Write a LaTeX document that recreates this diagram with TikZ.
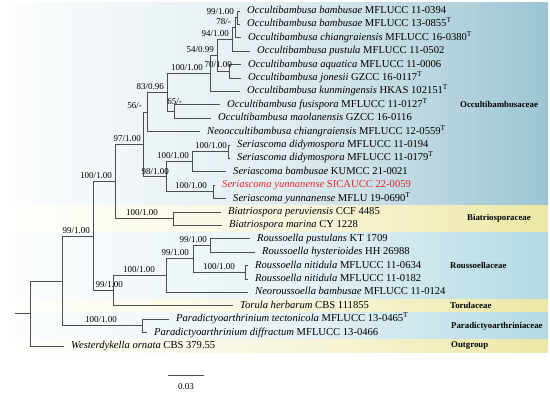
\documentclass[tikz,border=0pt]{standalone}
\usepackage{fontspec}
\setmainfont{Liberation Serif}
\definecolor{branchc}{RGB}{78,78,78}
\definecolor{blueA}{RGB}{156,196,210}
\definecolor{blueB}{RGB}{180,218,228}
\definecolor{yelA}{RGB}{236,232,166}
\definecolor{redlab}{RGB}{228,38,44}
\newcommand{\tsup}{\textsuperscript{T}}
\tikzset{
  br/.style={draw=branchc, line width=0.9pt},
  tipbr/.style={br, shorten >=7pt},
  leaf/.style={anchor=west, inner sep=0pt, font=\fontsize{10.6}{12}\selectfont, text height=7pt, text depth=2pt},
  bs/.style={anchor=base east, inner sep=0pt, font=\fontsize{9}{10}\selectfont},
  fam/.style={anchor=west, inner sep=0pt, font=\bfseries\fontsize{8.8}{10}\selectfont},
  blueband/.style={left color=white!96!blueA, right color=#1, middle color=#1!30!white},
  yelband/.style={left color=white!97!yelA, right color=yelA, middle color=yelA!36!white},
}
\begin{document}
\begin{tikzpicture}[x=1pt,y=-1pt]
\useasboundingbox (0,0) rectangle (550,393);
% bands
\shade[blueband=blueA] (15,3) rectangle (548,205.3);
\shade[yelband] (15,205.3) rectangle (548,232.1);
\shade[blueband=blueB] (15,232.1) rectangle (548,299.1);
\shade[yelband] (15,299.1) rectangle (548,312.5);
\shade[blueband=blueB] (15,312.5) rectangle (548,339.3);
\shade[yelband] (15,339.3) rectangle (548,353);

% internal nodes
\coordinate (stub) at (15,313.5);
\coordinate (root) at (30,313.5);
\coordinate (B) at (62,281);
\coordinate (C) at (93,236.1);
\coordinate (P) at (142,325.9);
\coordinate (D) at (115,181.55);
\coordinate (R5) at (113,290.7);
\coordinate (R4) at (166,275.65);
\coordinate (R3) at (193,258.9);
\coordinate (R1) at (210,245.5);
\coordinate (R2) at (245,272.3);
\coordinate (E) at (143,144.4);
\coordinate (Bi) at (173,218.7);
\coordinate (N56) at (147,112.02);
\coordinate (N98) at (166,176.83);
\coordinate (N83) at (167,92.45);
\coordinate (N65) at (174,111.5);
\coordinate (N100a) at (210,73.39);
\coordinate (N54) at (217,55.39);
\coordinate (N94) at (232,39.475);
\coordinate (N78) at (235,27.75);
\coordinate (N99) at (237,17.7);
\coordinate (N70) at (229,71.3);
\coordinate (N100b) at (192,161.75);
\coordinate (N100c) at (228,151.7);
\coordinate (N100d) at (213,191.9);

% leaves
\node[leaf] (l1) at (247,11.0) {\textit{Occultibambusa bambusae} MFLUCC 11-0394};
\node[leaf] (l2) at (247,24.4) {\textit{Occultibambusa bambusae} MFLUCC 13-0855\tsup};
\node[leaf] (l3) at (248,37.8) {\textit{Occultibambusa chiangraiensis} MFLUCC 16-0380\tsup};
\node[leaf] (l4) at (257,51.2) {\textit{Occultibambusa pustula} MFLUCC 11-0502};
\node[leaf] (l5) at (248,64.6) {\textit{Occultibambusa aquatica} MFLUCC 11-0006};
\node[leaf] (l6) at (248,78.0) {\textit{Occultibambusa jonesii} GZCC 16-0117\tsup};
\node[leaf] (l7) at (247,91.4) {\textit{Occultibambusa kunmingensis} HKAS 102151\tsup};
\node[leaf] (l8) at (227,104.8) {\textit{Occultibambusa fusispora} MFLUCC 11-0127\tsup};
\node[leaf] (l9) at (218,118.2) {\textit{Occultibambusa maolanensis} GZCC 16-0116};
\node[leaf] (l10) at (207,131.6) {\textit{Neooccultibambusa chiangraiensis} MFLUCC 12-0559\tsup};
\node[leaf] (l11) at (237,145.0) {\textit{Seriascoma didymospora} MFLUCC 11-0194};
\node[leaf] (l12) at (237,158.4) {\textit{Seriascoma didymospora} MFLUCC 11-0179\tsup};
\node[leaf] (l13) at (233,171.8) {\textit{Seriascoma bambusae} KUMCC 21-0021};
\node[leaf, text=redlab] (l14) at (222,185.2) {\textit{Seriascoma yunnanense} SICAUCC 22-0059};
\node[leaf] (l15) at (233,198.6) {\textit{Seriascoma yunnanense} MFLU 19-0690\tsup};
\node[leaf] (l16) at (228,212.0) {\textit{Biatriospora peruviensis} CCF 4485};
\node[leaf] (l17) at (229,225.4) {\textit{Biatriospora marina} CY 1228};
\node[leaf] (l18) at (257,238.8) {\textit{Roussoella pustulans} KT 1709};
\node[leaf] (l19) at (262,252.2) {\textit{Roussoella hysterioides} HH 26988};
\node[leaf] (l20) at (255,265.6) {\textit{Roussoella nitidula} MFLUCC 11-0634};
\node[leaf] (l21) at (255,279.0) {\textit{Roussoella nitidula} MFLUCC 11-0182};
\node[leaf] (l22) at (255,292.4) {\textit{Neoroussoella bambusae} MFLUCC 11-0124};
\node[leaf] (l23) at (240,305.8) {\textit{Torula herbarum} CBS 111855};
\node[leaf] (l24) at (176,319.2) {\textit{Paradictyoarthrinium tectonicola} MFLUCC 13-0465\tsup};
\node[leaf] (l25) at (154,332.6) {\textit{Paradictyoarthrinium diffractum} MFLUCC 13-0466};
\node[leaf] (l26) at (71,346.0) {\textit{Westerdykella ornata} CBS 379.55};

% branches
\draw[br] (stub) -- (root);
\foreach \p/\c in {root/B, B/C, B/P, C/D, C/R5, D/E, D/Bi, E/N56, E/N98, N56/N83,
  N83/N100a, N83/N65, N100a/N54, N54/N94, N54/N70, N94/N78, N78/N99,
  N98/N100b, N98/N100d, N100b/N100c, R5/R4, R4/R3, R3/R1, R3/R2}
  \draw[br] (\p) |- (\c);
\foreach \p/\c in {N99/l1, N99/l2, N78/l3, N94/l4, N70/l5, N70/l6, N100a/l7,
  N65/l8, N65/l9, N56/l10, N100c/l11, N100c/l12, N100b/l13, N100d/l14, N100d/l15,
  Bi/l16, Bi/l17, R1/l18, R1/l19, R2/l20, R2/l21, R4/l22, R5/l23, P/l24, P/l25, root/l26}
  \draw[tipbr] (\p) |- (\c.west);

% support values
\node[bs] (s99) at (234,14.7) {99/1.00};
\node[bs] (s78) at (231,24.75) {78/-};
\node[bs] (s94) at (229,36.5) {94/1.00};
\node[bs] (s54) at (214,52.4) {54/0.99};
\node[bs] (s70) at (232,67.3) {70/1.00};
\node[bs] (s100a) at (203,70.4) {100/1.00};
\node[bs] (s83) at (164,89.45) {83/0.96};
\node[bs] (s65) at (182,105) {65/-};
\node[bs] (s56) at (142,109) {56/-};
\node[bs] (s97) at (141,141.4) {97/1.00};
\node[bs] (s100c) at (227,148.7) {100/1.00};
\node[bs] (s100b) at (189,158.75) {100/1.00};
\node[bs] (s100d) at (207,188.9) {100/1.00};
\node[bs] (s98) at (169,175) {98/1.00};
\node[bs] (s100D) at (112,178.5) {100/1.00};
\node[bs] (sBi) at (158,215.7) {100/1.00};
\node[bs] (sC) at (90,233.1) {99/1.00};
\node[bs] (sR5) at (123,287.7) {99/1.00};
\node[bs] (sR4) at (155,272.65) {100/1.00};
\node[bs] (sR3) at (189,255.9) {99/1.00};
\node[bs] (sR1) at (207,242.5) {99/1.00};
\node[bs] (sR2) at (235,269.3) {100/1.00};
\node[bs] (sP) at (117,322.9) {100/1.00};

% family labels
\node[fam] (f1) at (460,104.8) {Occultibambusaceae};
\node[fam] (f2) at (467,218.7) {Biatriosporaceae};
\node[fam] (f3) at (450,265.6) {Roussoellaceae};
\node[fam] (f4) at (450,305.8) {Torulaceae};
\node[fam] (f5) at (451,325.9) {Paradictyoarthriniaceae};
\node[fam] (f6) at (451,346.0) {Outgroup};

% scale bar
\coordinate (sb1) at (168,375);
\coordinate (sb2) at (204,375);
\draw[br] (sb1) -- (sb2);
\node[inner sep=0pt, font=\fontsize{9}{10}\selectfont] (sbl) at (186,387) {0.03};
\end{tikzpicture}
\end{document}
